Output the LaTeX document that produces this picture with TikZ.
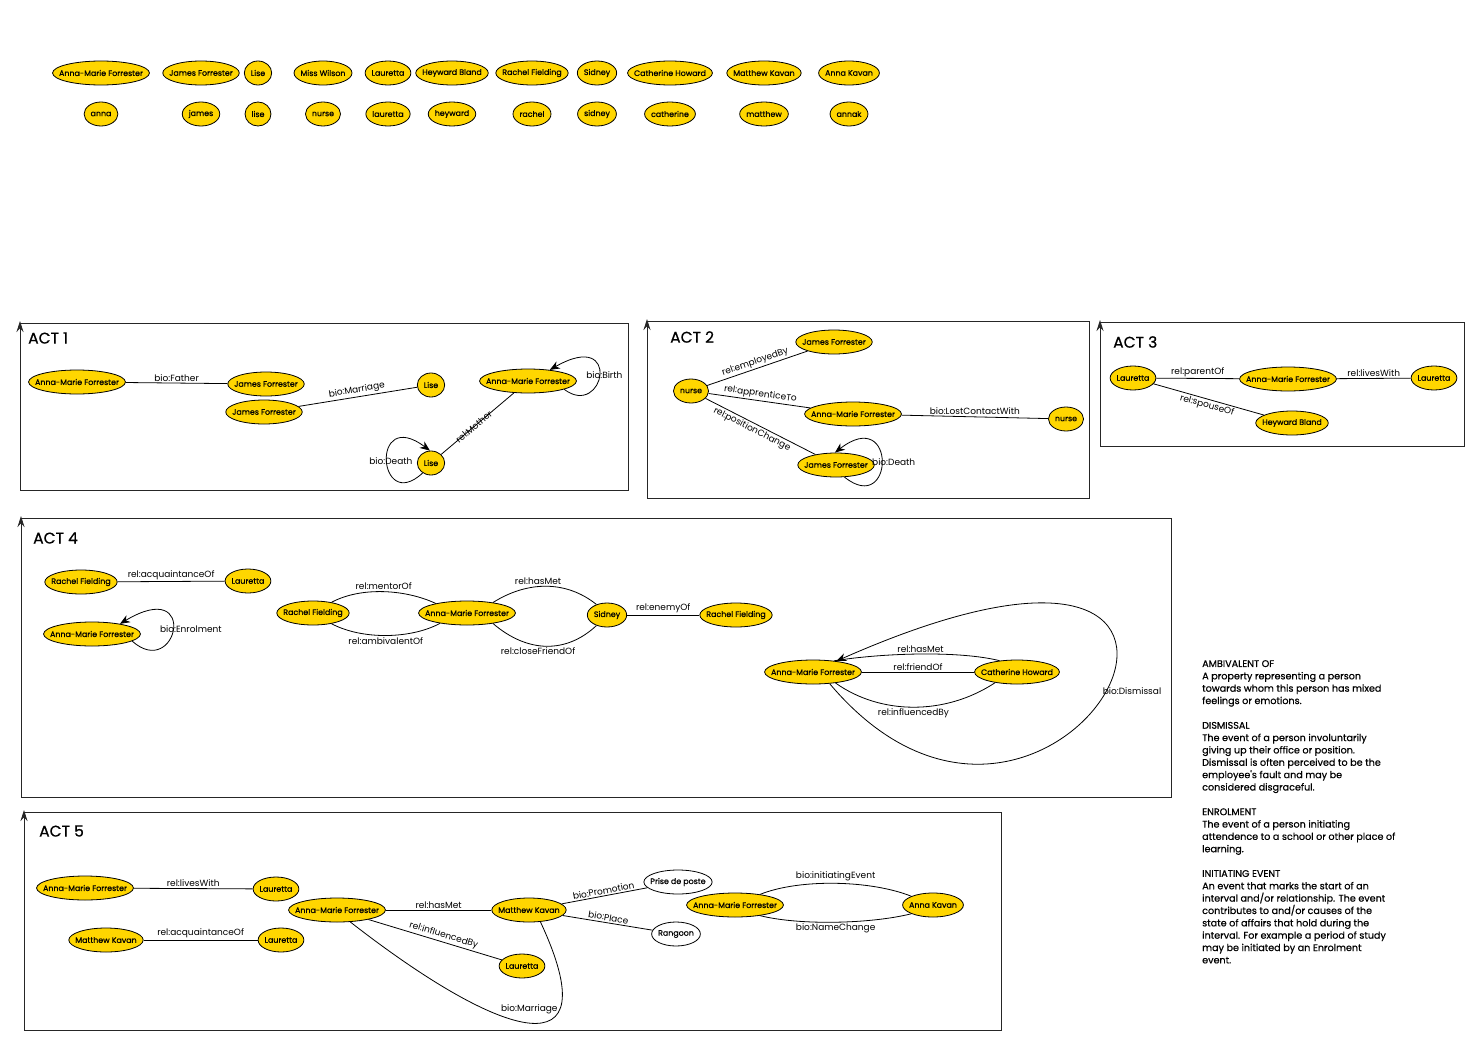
\documentclass[tikz,border=0pt]{standalone}
\usepackage{fontspec}
\setmainfont{Poppins}
\newfontfamily\medfont{Poppins}[FakeBold=0.6]
\usetikzlibrary{shapes.geometric,arrows.meta}
\definecolor{gold}{RGB}{255,214,0}
\newsavebox\namebox
\newcommand\nodefont{\medfont\fontsize{7.9}{9}\selectfont}
\newcommand\edgefont{\fontsize{9}{10}\selectfont}
\newcommand\notefont{\medfont\fontsize{9.6}{12.35}\selectfont}
\tikzstyle{person}=[ellipse,draw=black,fill=gold,line width=0.8pt,inner sep=0pt,minimum height=24pt,font=\nodefont,
  execute at begin node={\setbox\namebox\hbox\bgroup},
  execute at end node={\egroup\hbox to \dimexpr0.7071\wd\namebox+9.2pt\relax{\hss\box\namebox\hss}}]
\tikzstyle{place}=[person,fill=white]
\tikzstyle{link}=[draw=black,line width=0.8pt]
\tikzstyle{loopy}=[link,-{Stealth[length=10pt,width=8pt]}]
\tikzstyle{lbl}=[font=\edgefont,inner sep=1.5pt]
\tikzstyle{act}=[font=\medfont\fontsize{15.5}{17}\selectfont,anchor=west,inner sep=0pt]
\tikzstyle{frame}=[draw=black!85,line width=0.9pt]
\tikzstyle{frameup}=[frame,-{Stealth[length=11pt,width=7pt]}]

\begin{document}
\begin{tikzpicture}[x=1pt,y=-1pt]
	\useasboundingbox (0,0) rectangle (1472,1041);

	% cast list
	\foreach \x/\who/\id in {101/Anna-Marie Forrester/anna, 201/James Forrester/james,
		258/Lise/lise, 323/Miss Wilson/nurse, 388/Lauretta/lauretta, 452/Heyward Bland/heyward,
		532/Rachel Fielding/rachel, 597/Sidney/sidney, 670/Catherine Howard/catherine,
		764/Matthew Kavan/matthew, 849/Anna Kavan/annak} {
		\node[person] (\id top) at (\x,73) {\who};
		\node[person] (\id) at (\x,114) {\id};
	}

	% act 1
	\draw[frame] (20,490) -- (628,490) -- (628,323) -- (20,323);
	\draw[frameup] (20,490) -- (20,321);
	\node[act] (act1) at (28,338) {ACT 1};
	\node[person] (a1amf) at (77,382) {Anna-Marie Forrester};
	\node[person] (a1jf) at (266,384) {James Forrester};
	\node[person] (a1jfb) at (264,412) {James Forrester};
	\node[person] (a1lise) at (431,385) {Lise};
	\node[person] (a1amfb) at (528,381) {Anna-Marie Forrester};
	\node[person] (a1liseb) at (431,463) {Lise};
	\draw[link] (a1amf) -- node[lbl,above] {bio:Father} (a1jf);
	\draw[link] (a1jfb) -- node[lbl,above,sloped] {bio:Marriage} (a1lise);
	\draw[link] (a1amfb) -- node[lbl,sloped,pos=0.55] {rel:Mother} (a1liseb);
	\draw[loopy] (a1amfb.-13) .. controls +(40,30) and +(73,-42) .. node[lbl,pos=0.5,xshift=5pt] {bio:Birth} (a1amfb.27);
	\draw[loopy] (a1liseb.-130) .. controls +(-45,42) and +(-60,-45) .. node[lbl,pos=0.5,xshift=4pt] {bio:Death} (a1liseb.95);

	% act 2
	\draw[frame] (647,498) -- (1089,498) -- (1089,321) -- (647,321);
	\draw[frameup] (647,498) -- (647,319);
	\node[act] (act2) at (670,337) {ACT 2};
	\node[person] (a2nurse) at (691,391) {nurse};
	\node[person] (a2jf) at (834,342) {James Forrester};
	\node[person] (a2amf) at (853,414) {Anna-Marie Forrester};
	\node[person] (a2nurseb) at (1066,419) {nurse};
	\node[person] (a2jfb) at (836,465) {James Forrester};
	\draw[link] (a2nurse) -- node[lbl,above,sloped] {rel:employedBy} (a2jf);
	\draw[link] (a2nurse) -- node[lbl,above,sloped] {rel:apprenticeTo} (a2amf);
	\draw[link] (a2nurse) -- node[lbl,below,sloped,pos=0.45] {rel:positionChange} (a2jfb);
	\draw[link] (a2amf) -- node[lbl,above] {bio:LostContactWith} (a2nurseb);
	\draw[loopy] (a2jfb.-55) .. controls +(50,40) and +(62,-48) .. node[lbl,pos=0.5,xshift=12pt] {bio:Death} (a2jfb.95);

	% act 3
	\draw[frame] (1100,446) -- (1464,446) -- (1464,322) -- (1100,322);
	\draw[frameup] (1100,446) -- (1100,320);
	\node[act] (act3) at (1113,342) {ACT 3};
	\node[person] (a3lau) at (1133,378) {Lauretta};
	\node[person] (a3amf) at (1288,379) {Anna-Marie Forrester};
	\node[person] (a3laub) at (1434,378) {Lauretta};
	\node[person] (a3hb) at (1292,423) {Heyward Bland};
	\draw[link] (a3lau) -- node[lbl,above] {rel:parentOf} (a3amf);
	\draw[link] (a3amf) -- node[lbl,above] {rel:livesWith} (a3laub);
	\draw[link] (a3lau) -- node[lbl,below,sloped] {rel:spouseOf} (a3hb);

	% act 4
	\draw[frame] (21,797) -- (1171,797) -- (1171,518) -- (21,518);
	\draw[frameup] (21,797) -- (21,516);
	\node[act] (act4) at (33,538) {ACT 4};
	\node[person] (a4rf) at (81,582) {Rachel Fielding};
	\node[person] (a4lau) at (248,581) {Lauretta};
	\node[person] (a4amf) at (92,634) {Anna-Marie Forrester};
	\node[person] (a4rfb) at (313,613) {Rachel Fielding};
	\node[person] (a4amfb) at (467,613) {Anna-Marie Forrester};
	\node[person] (a4sid) at (607,615) {Sidney};
	\node[person] (a4rfc) at (736,615) {Rachel Fielding};
	\node[person] (a4amfc) at (813,672) {Anna-Marie Forrester};
	\node[person] (a4ch) at (1017,672) {Catherine Howard};
	\draw[link] (a4rf) -- node[lbl,above] {rel:acquaintanceOf} (a4lau);
	\draw[loopy] (a4amf.-10) .. controls +(45,40) and +(80,-48) .. node[lbl,pos=0.5,xshift=18pt] {bio:Enrolment} (a4amf.20);
	\draw[link] (a4rfb.30) .. controls +(30,-16) and +(-30,-14) .. node[lbl,above] {rel:mentorOf} (a4amfb.163);
	\draw[link] (a4rfb.-30) .. controls +(30,16) and +(-30,16) .. node[lbl,below] {rel:ambivalentOf} (a4amfb.-159);
	\draw[link] (a4amfb.22) .. controls +(35,-22) and +(-30,-24) .. node[lbl,above,pos=0.42] {rel:hasMet} (a4sid.135);
	\draw[link] (a4amfb.-22) .. controls +(35,30) and +(-30,28) .. node[lbl,below,pos=0.42] {rel:closeFriendOf} (a4sid.-135);
	\draw[link] (a4sid) -- node[lbl,above] {rel:enemyOf} (a4rfc);
	\draw[link] (a4ch.147) .. controls +(-40,-10) and +(50,-8) .. node[lbl,above] {rel:hasMet} (a4amfc.28);
	\draw[link] (a4amfc) -- node[lbl,above] {rel:friendOf} (a4ch);
	\draw[link] (a4ch.-154) .. controls +(-50,33) and +(45,32) .. node[lbl,below] {rel:influencedBy} (a4amfc.-26);
	\draw[loopy] (a4amfc.-35) .. controls +(228,270) and +(500,-221) .. node[lbl,pos=0.5,xshift=26pt] {bio:Dismissal} (a4amfc.25);

	% act 5
	\draw[frame] (24,1030) -- (1001,1030) -- (1001,812) -- (24,812);
	\draw[frameup] (24,1030) -- (24,810);
	\node[act] (act5) at (39,831) {ACT 5};
	\node[person] (a5amf) at (85,888) {Anna-Marie Forrester};
	\node[person] (a5lau) at (276,889) {Lauretta};
	\node[person] (a5mk) at (106,940) {Matthew Kavan};
	\node[person] (a5laub) at (281,940) {Lauretta};
	\node[person] (a5amfb) at (337,910) {Anna-Marie Forrester};
	\node[person] (a5mkb) at (529,910) {Matthew Kavan};
	\node[person] (a5lauc) at (522,966) {Lauretta};
	\node[place] (a5post) at (678,882) {Prise de poste};
	\node[place] (a5rangoon) at (676,934) {Rangoon};
	\node[person] (a5amfc) at (735,905) {Anna-Marie Forrester};
	\node[person] (a5ak) at (933,905) {Anna Kavan};
	\draw[link] (a5amf) -- node[lbl,above] {rel:livesWith} (a5lau);
	\draw[link] (a5mk) -- node[lbl,above] {rel:acquaintanceOf} (a5laub);
	\draw[link] (a5amfb) -- node[lbl,above] {rel:hasMet} (a5mkb);
	\draw[link] (a5amfb) -- node[lbl,above,sloped,pos=0.55] {rel:influencedBy} (a5lauc);
	\draw[link] (a5amfb.-42) .. controls +(154,120) and +(70,150) .. node[lbl,above=7pt,pos=0.5] {bio:Marriage} (a5mkb.-46);
	\draw[link] (a5mkb) -- node[lbl,above,sloped] {bio:Promotion} (a5post);
	\draw[link] (a5mkb) -- node[lbl,above,sloped] {bio:Place} (a5rangoon);
	\draw[link] (a5amfc.23) .. controls +(40,-16) and +(-40,-16) .. node[lbl,above] {bio:initiatingEvent} (a5ak.158);
	\draw[link] (a5amfc.-23) .. controls +(40,10) and +(-40,10) .. node[lbl,below] {bio:NameChange} (a5ak.-158);

	% glossary
	\node[anchor=north west,align=left,font=\notefont,inner sep=0pt] (notes) at (1202,660) {AMBIVALENT OF\\
		A property representing a person\\
		towards whom this person has mixed\\
		feelings or emotions.\\[12.35pt]
		DISMISSAL\\
		The event of a person involuntarily\\
		giving up their office or position.\\
		Dismissal is often perceived to be the\\
		employee's fault and may be\\
		considered disgraceful.\\[12.35pt]
		ENROLMENT\\
		The event of a person initiating\\
		attendence to a school or other place of\\
		learning.\\[12.35pt]
		INITIATING EVENT\\
		An event that marks the start of an\\
		interval and/or relationship. The event\\
		contributes to and/or causes of the\\
		state of affairs that hold during the\\
		interval. For example a period of study\\
		may be initiated by an Enrolment\\
		event.};
\end{tikzpicture}
\end{document}
